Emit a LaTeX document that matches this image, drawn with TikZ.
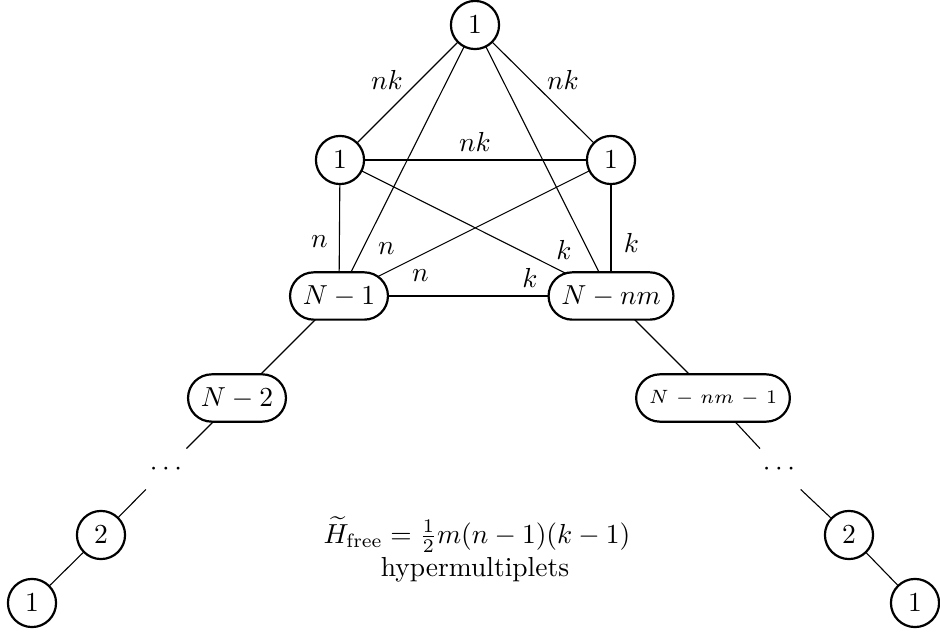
\documentclass[tikz,border=0pt]{standalone}
\pgfdeclarelayer{bg}
\pgfsetlayers{bg,main}
\begin{document}
\begin{tikzpicture}[x=0.3636pt,y=-0.3636pt,
  circ/.style={circle,draw,thick,fill=white,minimum size=17.5pt,inner sep=0pt},
  pill/.style={rectangle,rounded corners=8.6pt,draw,thick,fill=white,minimum height=17.2pt,inner sep=0pt},
  lbl/.style={inner sep=0pt},
  dotn/.style={inner sep=5pt}]
\useasboundingbox (0,0) rectangle (940,634);
% top clique
\node[circ] (t)  at (475,25)  {$1$};
\node[circ] (l1) at (340,160) {$1$};
\node[circ] (r1) at (611,160) {$1$};
\node[pill,minimum width=35.6pt] (a) at (339,296) {$N-1$};
\node[pill,minimum width=45.4pt] (b) at (611,296) {$N-nm$};
% left tail
\node[pill,minimum width=35.6pt] (c) at (237,398) {$N-2$};
\node[dotn] (dl) at (166,469) {$\cdots$};
\node[circ] (l2) at (101,535) {$2$};
\node[circ] (ll) at (32,603)  {$1$};
% right tail
\node[pill,minimum width=55.9pt] (d) at (713,398) {\scriptsize $N\mskip2mu-\mskip2mu nm\mskip2mu-\mskip2mu 1$};
\node[dotn] (dr) at (779,469) {$\cdots$};
\node[circ] (r2) at (849,535) {$2$};
\node[circ] (rr) at (915,603) {$1$};
% edges (behind the nodes)
\begin{pgfonlayer}{bg}
\draw (t) -- (l1);
\draw (t) -- (r1);
\draw (l1) -- (r1);
\draw (l1.center) -- (a.center);
\draw (t.center) -- (a.center);
\draw (r1.center) -- (a.center);
\draw (r1.center) -- (b.center);
\draw (t.center) -- (b.center);
\draw (l1.center) -- (b.center);
\draw (a.center) -- (b.center);
\draw (a.center) -- (c.center);
\draw (c.center) -- (dl);
\draw (dl) -- (l2);
\draw (l2) -- (ll);
\draw (b.center) -- (d.center);
\draw (d.center) -- (dr);
\draw (dr) -- (r2);
\draw (r2) -- (rr);
\end{pgfonlayer}
% labels
\node[lbl] (nk1) at (387,79.5) {$nk$};
\node[lbl] (nk2) at (563,79.5) {$nk$};
\node[lbl] (nk3) at (475,141.5) {$nk$};
\node[lbl] (n1) at (319.5,242) {$n$};
\node[lbl] (n2) at (386.5,248.5) {$n$};
\node[lbl] (n3) at (420.5,276) {$n$};
\node[lbl] (k1) at (564,250) {$k$};
\node[lbl] (k2) at (631.5,242.5) {$k$};
\node[lbl] (k3) at (530,278) {$k$};
% formula
\node[anchor=base,inner sep=0pt] (hf) at (477,543) {$\widetilde{H}_{\mathrm{free}} = \frac{1}{2}m(n-1)(k-1)$};
\node[anchor=base,inner sep=0pt] (hm) at (475,577) {hypermultiplets};
\end{tikzpicture}
\end{document}
